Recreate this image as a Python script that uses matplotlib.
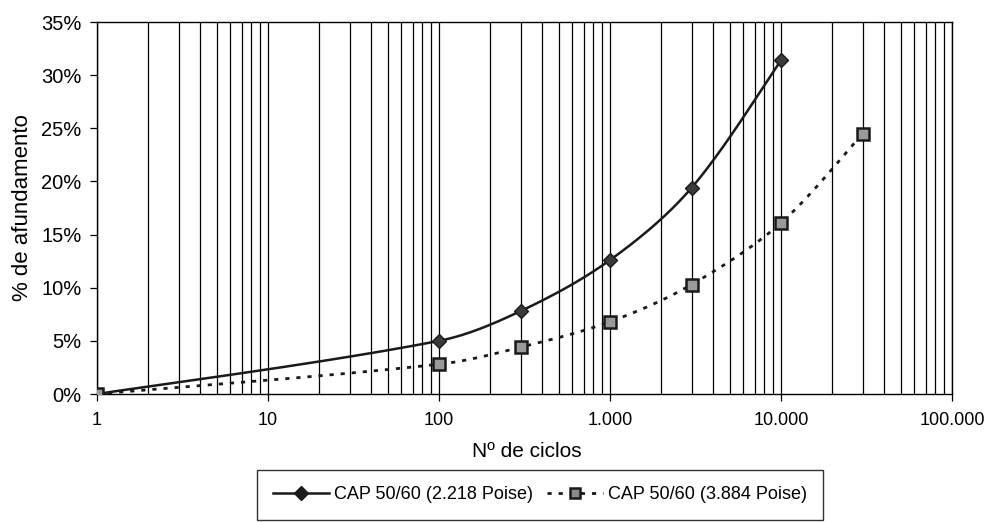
import numpy as np
import matplotlib
matplotlib.use("Agg")
import matplotlib.pyplot as plt
from matplotlib.ticker import FuncFormatter, FixedLocator

plt.rcParams['font.family'] = ['Liberation Sans', 'DejaVu Sans']

# Rut depth (%) versus number of load cycles
cycles_a = [1, 100, 300, 1000, 3000, 10000]
rut_a = [0.0, 5.0, 7.8, 12.6, 19.4, 31.4]
label_a = "CAP 50/60 (2.218 Poise)"

cycles_b = [1, 100, 300, 1000, 3000, 10000, 30000]
rut_b = [0.0, 2.8, 4.4, 6.8, 10.3, 16.1, 24.5]
label_b = "CAP 50/60 (3.884 Poise)"

y_ticks = [0, 5, 10, 15, 20, 25, 30, 35]
x_ticks = [1, 10, 100, 1000, 10000, 100000]


def smooth(ax, xs, ys, n=40):
    """Bezier smoothing through the points, computed in display space."""
    pts = ax.transData.transform(np.column_stack([xs, ys]))
    out = []
    m = len(pts)
    for i in range(m - 1):
        p0 = pts[i - 1] if i > 0 else pts[i]
        p1 = pts[i]
        p2 = pts[i + 1]
        p3 = pts[i + 2] if i + 2 < m else pts[i + 1]
        l01 = np.linalg.norm(p1 - p0)
        l12 = np.linalg.norm(p2 - p1)
        l23 = np.linalg.norm(p3 - p2)
        f1 = l12 / (l01 + l12) / 3.0 if l01 > 0 else 1 / 6.0
        f2 = l12 / (l12 + l23) / 3.0 if l23 > 0 else 1 / 6.0
        c1 = p1 + (p2 - p0) * f1
        c2 = p2 - (p3 - p1) * f2
        t = np.linspace(0, 1, n)[:, None]
        seg = ((1 - t) ** 3) * p1 + 3 * ((1 - t) ** 2) * t * c1 + 3 * (1 - t) * t ** 2 * c2 + t ** 3 * p2
        out.append(seg if i == 0 else seg[1:])
    seg = np.vstack(out)
    data = ax.transData.inverted().transform(seg)
    return data[:, 0], data[:, 1]


W, H = 995, 522
fig = plt.figure(figsize=(W / 100, H / 100), dpi=100)
ax = fig.add_axes([97 / W, 1 - 394 / H, (952 - 97) / W, (394 - 22) / H])

ax.set_xscale('log')
ax.set_xlim(1, 100000)
ax.set_ylim(0, 35)

# vertical grid at every major and minor decade position
grid_pos = [m * 10 ** d for d in range(5) for m in range(1, 10)] + [100000]
for g in grid_pos:
    ax.axvline(g, color='black', lw=0.9, zorder=1)

sx, sy = smooth(ax, cycles_a, rut_a)
ax.plot(sx, sy, color='#1a1a1a', lw=1.8, zorder=3)
ax.plot(cycles_a, rut_a, ls='none', marker='D', ms=7, mfc='#3a3a3a', mec='#1a1a1a', zorder=4)

sx, sy = smooth(ax, cycles_b, rut_b)
ax.plot(sx, sy, color='#1a1a1a', lw=2.0, ls=(0, (1.5, 2.5)), zorder=3)
ax.plot(cycles_b, rut_b, ls='none', marker='s', ms=9, mfc='#9a9a9a', mec='#1a1a1a', mew=1.8, zorder=4)

# legend proxies
h_a, = ax.plot([], [], color='#1a1a1a', lw=1.8, marker='D', ms=7, mfc='#1a1a1a', mec='#1a1a1a')
h_b, = ax.plot([], [], color='#1a1a1a', lw=2.0, ls=(0, (1.5, 2.5)), marker='s', ms=7,
               mfc='#8a8a8a', mec='#1a1a1a', mew=1.8)

ax.xaxis.set_major_locator(FixedLocator(x_ticks))
ax.xaxis.set_minor_locator(FixedLocator([]))
ax.xaxis.set_major_formatter(FuncFormatter(lambda v, p: f"{int(round(v)):,}".replace(',', '.')))
ax.set_yticks(y_ticks)
ax.yaxis.set_major_formatter(FuncFormatter(lambda v, p: f"{int(v)}%"))

ax.tick_params(axis='y', labelsize=14.5, length=5, width=0.9, direction='out', pad=6)
ax.tick_params(axis='x', labelsize=13, length=5, width=0.9, direction='out', pad=8)

for s in ax.spines.values():
    s.set_linewidth(1.0)
    s.set_color('black')

ax.set_ylabel('% de afundamento', fontsize=16, labelpad=6)
ax.set_xlabel('Nº de ciclos', fontsize=15)
ax.xaxis.set_label_coords(527 / W, 1 - 442 / H, transform=fig.transFigure)

leg = fig.legend([h_a, h_b], [label_a, label_b], loc='upper center',
                 bbox_to_anchor=(540 / W, 1 - 470 / H), ncol=2, fontsize=13,
                 frameon=True, fancybox=False, edgecolor='black', borderpad=0.9,
                 borderaxespad=0, handlelength=3.1, columnspacing=0.8, handletextpad=0.25)
leg.get_frame().set_linewidth(1.0)

fig.savefig('out.png', dpi=100)
